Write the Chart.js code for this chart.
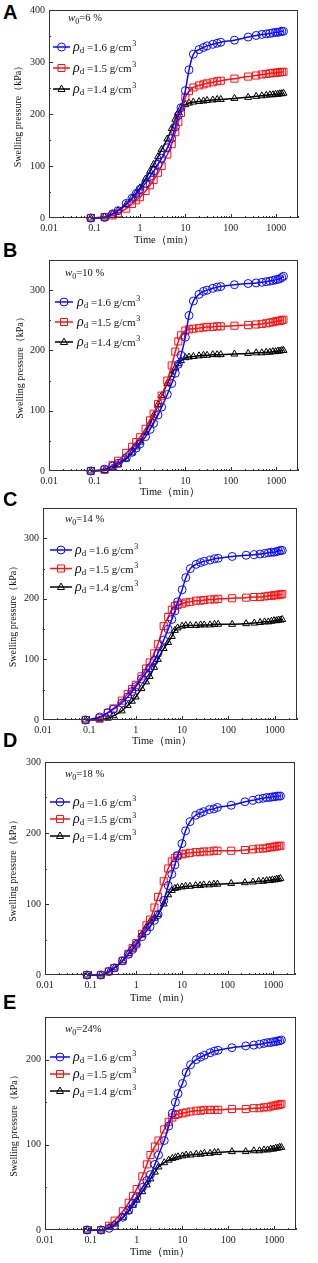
<!DOCTYPE html>
<html>
<head>
<meta charset="utf-8">
<script src="https://cdn.jsdelivr.net/npm/chart.js@4"></script>
<style>
  html, body { margin: 0; padding: 0; background: #fff; }
  body { width: 318px; height: 1263px; position: relative; overflow: hidden; }
  canvas { position: absolute; left: 0; }
  .letter { position: absolute; left: 3px; font: bold 20px "Liberation Sans", Arial, sans-serif; line-height: 20px; color: #000; }
</style>
</head>
<body>
<script>
// time (min) of each reading, shared by all series
const times = [0.083, 0.167, 0.25, 0.33, 0.5, 0.67, 0.83, 1,
  1.33, 1.67, 2, 2.5, 3, 4, 5, 6, 7, 8,
  10, 12, 15, 20, 25, 30, 40, 50, 60,
  120, 240, 360, 480, 600, 720, 840, 960, 1080, 1200, 1320, 1440];

const densities = ["1.6", "1.5", "1.4"];
const waterContents = ["6 %", "10 %", "14 %", "18 %", "24%"];
const panelLetters = ["A", "B", "C", "D", "E"];
const yMaxes = [400, 350, 350, 300, 250];
const xTicks = [0.01, 0.1, 1, 10, 100, 1000];

// swelling pressure (kPa), panel A .. E, rho_d = 1.6 / 1.5 / 1.4
const a16 = [0,1,8,14,28,38,47,55, 67,80,90,103,115,135,153,175,197,212, 245,285,315,324,328,331,334,336,338, 342,348,351,353,354,355,356,357,357,358,359,359];
const a15 = [0,2,5,9,18,27,34,40, 52,63,73,87,100,122,142,165,185,202, 232,244,251,255,257,259,261,263,264, 268,272,274,276,277,278,279,279,280,280,281,281];
const a14 = [0,2,8,14,26,38,48,58, 75,90,103,118,132,152,172,190,203,212, 218,221,223,224,225,226,227,228,228, 230,232,234,235,236,237,237,238,238,239,239,240];

const b16 = [0,3,8,13,22,31,38,45, 57,69,79,93,106,127,145,162,177,192, 222,258,282,293,298,300,303,305,306, 309,311,312,313,314,315,316,317,318,319,321,323];
const b15 = [0,2,10,17,30,40,48,56, 70,84,95,111,125,150,175,198,215,225, 233,235,236,237,238,239,239,240,240, 241,242,243,244,245,246,247,248,249,249,250,251];
const b14 = [0,1,5,10,20,30,40,48, 64,79,92,110,125,145,160,171,178,183, 188,189,190,191,192,192,193,193,193, 194,195,196,196,197,197,198,198,199,199,200,200];

const c16 = [0,5,12,18,28,38,47,55, 68,78,86,98,110,132,150,166,180,195, 215,235,250,257,260,262,264,266,267, 270,272,273,274,275,276,277,277,278,279,280,280];
const c15 = [0,3,12,19,32,43,51,58, 72,85,95,110,125,155,170,182,188,190, 192,194,195,197,197,198,199,199,200, 201,202,203,203,204,205,205,206,206,207,207,208];
const c14 = [0,0,3,7,15,24,31,38, 52,63,72,87,100,118,128,138,148,152, 155,156,156,156,157,157,157,158,158, 158,159,160,161,162,162,163,164,164,165,165,166];

const d16 = [0,0,5,10,20,29,36,43, 54,62,68,77,85,105,126,142,155,168, 185,203,216,225,228,230,233,234,236, 239,244,246,248,249,250,250,251,251,252,252,252];
const d15 = [0,0,5,10,20,30,38,45, 58,70,78,95,110,132,150,160,165,168, 170,171,172,173,173,174,174,175,175, 175,176,177,178,178,179,180,180,181,181,182,182];
const d14 = [0,0,4,10,20,30,38,45, 57,68,75,80,85,100,113,119,122,123, 124,125,125,126,126,127,127,128,128, 129,130,131,132,132,133,133,134,134,135,135,136];

const e16 = [0,0,2,5,15,23,31,38, 50,58,65,77,88,105,122,137,150,160, 172,185,194,200,203,205,208,210,211, 214,216,217,218,219,220,220,221,221,222,222,223];
const e15 = [0,0,5,11,22,32,40,48, 63,77,88,98,105,118,127,132,135,136, 137,138,139,140,140,141,141,141,141, 142,142,143,143,144,144,145,146,146,147,147,148];
const e14 = [0,0,3,7,15,22,29,35, 45,53,60,68,74,79,82,84,85,86, 87,88,88,89,89,90,90,91,91, 92,92,93,93,94,94,95,95,96,96,97,97];

const panelSeries = [[a16, a15, a14], [b16, b15, b14], [c16, c15, c14], [d16, d15, d14], [e16, e15, e14]];

const colors = ["#0a0aff", "#ff1010", "#000000"];
const shapes = ["circle", "rect", "triangle"];
const radii = [4, 5, 4];
const axisColor = "#333";
const serif = '"Liberation Serif", "Times New Roman", serif';

// page positions of each panel (px)
const layout = [
  { top: 0,    frameTop: 5,    frameBottom: 218,  left: 49, right: 298, yTitleX: 18, xTitleX: 164, xTitleY: 240,  letterTop: 2,
    leg: { wx: 68, wy: 17,   lx0: 53, lx1: 70, tx: 73, y0: 47,   dy: 21 } },
  { top: 250,  frameTop: 258,  frameBottom: 471,  left: 49, right: 298, yTitleX: 20, xTitleX: 170, xTitleY: 492,  letterTop: 240,
    leg: { wx: 65, wy: 272,  lx0: 55, lx1: 73, tx: 77, y0: 302,  dy: 20 } },
  { top: 498,  frameTop: 505,  frameBottom: 720,  left: 43, right: 297, yTitleX: 13, xTitleX: 162, xTitleY: 741,  letterTop: 489,
    leg: { wx: 65, wy: 518,  lx0: 50, lx1: 72, tx: 75, y0: 550,  dy: 18.5 } },
  { top: 752,  frameTop: 760,  frameBottom: 975,  left: 45, right: 295, yTitleX: 13, xTitleX: 160, xTitleY: 998,  letterTop: 730,
    leg: { wx: 65, wy: 773,  lx0: 50, lx1: 70, tx: 73, y0: 802,  dy: 17 } },
  { top: 1007, frameTop: 1015, frameBottom: 1230, left: 45, right: 296, yTitleX: 14, xTitleX: 160, xTitleY: 1252, letterTop: 992,
    leg: { wx: 65, wy: 1028, lx0: 50, lx1: 70, tx: 73, y0: 1057, dy: 17 } },
];
const canvasH = 256;

Chart.defaults.font.family = serif;
Chart.defaults.font.size = 10;
Chart.defaults.color = "#222";

function drawMarker(ctx, shape, x, y, color) {
  ctx.strokeStyle = color;
  ctx.lineWidth = 1;
  ctx.beginPath();
  if (shape === "circle") {
    ctx.arc(x, y, 4, 0, Math.PI * 2);
  } else if (shape === "rect") {
    ctx.rect(x - 3.5, y - 3.5, 7, 7);
  } else {
    ctx.moveTo(x, y - 4);
    ctx.lineTo(x + 3.5, y + 2.5);
    ctx.lineTo(x - 3.5, y + 2.5);
    ctx.closePath();
  }
  ctx.stroke();
}

function rhoLabel(ctx, x, y, val) {
  const base = y + 4;
  ctx.fillStyle = "#111";
  ctx.textAlign = "left";
  ctx.textBaseline = "alphabetic";
  ctx.font = "italic 14px " + serif;
  ctx.fillText("ρ", x, base);
  x += ctx.measureText("ρ").width;
  ctx.font = "9px " + serif;
  ctx.fillText("d", x, base + 2);
  x += ctx.measureText("d").width;
  ctx.font = "11px " + serif;
  const s = " =" + val + " g/cm";
  ctx.fillText(s, x, base);
  x += ctx.measureText(s).width;
  ctx.font = "8px " + serif;
  ctx.fillText("3", x + 0.5, base - 5);
}

function wLabel(ctx, x, y, val) {
  const base = y + 4;
  ctx.fillStyle = "#111";
  ctx.textAlign = "left";
  ctx.textBaseline = "alphabetic";
  ctx.font = "italic 11px " + serif;
  ctx.fillText("w", x, base);
  x += ctx.measureText("w").width;
  ctx.font = "8px " + serif;
  ctx.fillText("0", x, base + 2.5);
  x += ctx.measureText("0").width;
  ctx.font = "10.5px " + serif;
  ctx.fillText("=" + val, x, base);
}

function deco(i) {
  const L = layout[i];
  return {
    id: "deco" + i,
    afterDraw(chart) {
      const { ctx, chartArea: a, scales: { x, y } } = chart;
      ctx.save();
      // frame
      ctx.strokeStyle = axisColor;
      ctx.lineWidth = 1;
      ctx.strokeRect(Math.round(a.left) + 0.5, Math.round(a.top) + 0.5, Math.round(a.width) - 1, Math.round(a.height) - 1);
      // inward ticks, y
      ctx.beginPath();
      for (let v = 50; v < yMaxes[i]; v += 50) {
        const py = Math.round(y.getPixelForValue(v)) + 0.5;
        const len = v % 100 === 0 ? 4 : 2;
        ctx.moveTo(a.left, py);
        ctx.lineTo(a.left + len, py);
      }
      // inward ticks, x (log)
      for (let d = -2; d <= 3; d++) {
        for (let m = 1; m <= 9; m++) {
          const v = m * Math.pow(10, d);
          if (v > x.max) break;
          if (v <= x.min) continue;
          const px = Math.round(x.getPixelForValue(v)) + 0.5;
          const len = m === 1 ? 4 : 2;
          ctx.moveTo(px, a.bottom);
          ctx.lineTo(px, a.bottom - len);
        }
      }
      ctx.stroke();

      // axis titles
      ctx.fillStyle = "#111";
      ctx.textAlign = "center";
      ctx.textBaseline = "middle";
      ctx.font = "10.5px " + serif;
      ctx.fillText("Time（min）", L.xTitleX, L.xTitleY - L.top);
      ctx.save();
      ctx.translate(L.yTitleX, (a.top + a.bottom) / 2);
      ctx.rotate(-Math.PI / 2);
      ctx.font = "10px " + serif;
      ctx.fillText("Swelling pressure（kPa）", 0, 0);
      ctx.restore();

      // annotation + legend
      const g = L.leg;
      wLabel(ctx, g.wx, g.wy - L.top, waterContents[i]);
      densities.forEach((den, j) => {
        const ly = g.y0 + j * g.dy - L.top;
        ctx.strokeStyle = colors[j];
        ctx.lineWidth = 1.5;
        ctx.beginPath();
        ctx.moveTo(g.lx0, ly);
        ctx.lineTo(g.lx1, ly);
        ctx.stroke();
        drawMarker(ctx, shapes[j], (g.lx0 + g.lx1) / 2, ly, colors[j]);
        rhoLabel(ctx, g.tx, ly, den);
      });
      ctx.restore();
    }
  };
}

layout.forEach((L, i) => {
  const letter = document.createElement("div");
  letter.className = "letter";
  letter.style.top = L.letterTop + "px";
  letter.textContent = panelLetters[i];
  document.body.appendChild(letter);

  const cv = document.createElement("canvas");
  cv.width = 318;
  cv.height = canvasH;
  cv.style.top = L.top + "px";
  document.body.appendChild(cv);

  new Chart(cv, {
    type: "line",
    data: {
      datasets: panelSeries[i].map((vals, j) => ({
        label: "ρd =" + densities[j] + " g/cm3",
        data: times.map((t, k) => ({ x: t, y: vals[k] })),
        borderColor: colors[j],
        borderWidth: 1.5,
        cubicInterpolationMode: "monotone",
        pointStyle: shapes[j],
        pointRadius: radii[j],
        pointBorderColor: colors[j],
        pointBackgroundColor: "rgba(255,255,255,0)",
        pointBorderWidth: 1,
        fill: false,
        clip: false,
      })),
    },
    options: {
      responsive: false,
      animation: false,
      devicePixelRatio: 1,
      layout: { padding: { top: L.frameTop - L.top, right: 318 - L.right, left: 0, bottom: 0 } },
      plugins: { legend: { display: false }, tooltip: { enabled: false } },
      scales: {
        x: {
          type: "logarithmic",
          min: 0.01,
          max: 3000,
          grid: { display: false, drawTicks: false, tickLength: 0 },
          border: { display: false },
          afterBuildTicks: (s) => { s.ticks = xTicks.map((v) => ({ value: v })); },
          afterFit: (s) => { s.height = canvasH - (L.frameBottom - L.top); },
          ticks: { callback: (v) => String(v), padding: 4, maxRotation: 0, autoSkip: false },
        },
        y: {
          min: 0,
          max: yMaxes[i],
          grid: { display: false, drawTicks: false, tickLength: 0 },
          border: { display: false },
          afterBuildTicks: (s) => { s.ticks = s.ticks.filter((t) => t.value % 100 === 0); },
          afterFit: (s) => { s.width = L.left; },
          ticks: { stepSize: 100, padding: 4 },
        },
      },
    },
    plugins: [deco(i)],
  });
});
</script>
</body>
</html>
